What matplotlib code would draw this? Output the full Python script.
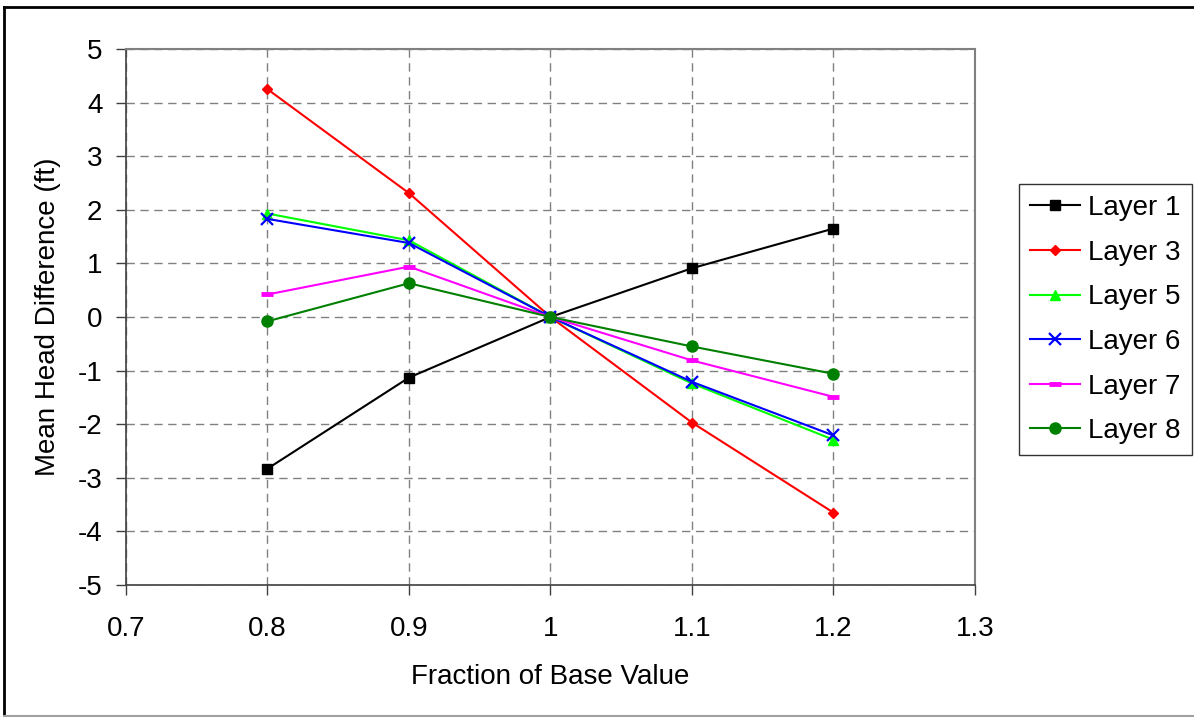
import matplotlib
matplotlib.use("Agg")
import matplotlib.pyplot as plt
from matplotlib.lines import Line2D

plt.rcParams['font.family'] = ['Liberation Sans', 'DejaVu Sans']
plt.rcParams['axes.unicode_minus'] = False

fractions = [0.8, 0.9, 1.0, 1.1, 1.2]
layer_names = ["Layer 1", "Layer 3", "Layer 5", "Layer 6", "Layer 7", "Layer 8"]
layer1 = [-2.83, -1.13, 0.0, 0.91, 1.65]
layer3 = [4.25, 2.31, 0.0, -1.97, -3.65]
layer5 = [1.93, 1.43, 0.0, -1.24, -2.29]
layer6 = [1.83, 1.38, 0.0, -1.21, -2.21]
layer7 = [0.42, 0.94, 0.0, -0.81, -1.49]
layer8 = [-0.08, 0.63, 0.0, -0.55, -1.06]
series = [layer1, layer3, layer5, layer6, layer7, layer8]

colors = ["#000000", "#FF0000", "#00FF00", "#0000FF", "#FF00FF", "#008000"]
markers = ["s", "D", "^", "x", "_", "o"]
msizes = [7.5, 5.5, 7, 9, 9, 8]
mews = [1, 1, 1, 1.6, 3.5, 1]

W, H = 1194, 717
fig = plt.figure(figsize=(W / 100, H / 100), dpi=100)
ax = fig.add_axes([126 / W, 1 - 585 / H, (975 - 126) / W, (585 - 49) / H])

for name, vals, c, m, ms, mew in zip(layer_names, series, colors, markers, msizes, mews):
    ax.plot(fractions, vals, color=c, marker=m, markersize=ms, markeredgewidth=mew,
            linewidth=1.5, label=name, clip_on=False)

ax.set_xlim(0.7, 1.3)
ax.set_ylim(-5, 5)
ax.set_xticks([0.7, 0.8, 0.9, 1.0, 1.1, 1.2, 1.3])
ax.set_xticklabels(["0.7", "0.8", "0.9", "1", "1.1", "1.2", "1.3"])
ax.set_yticks(range(-5, 6))
ax.grid(True, color="#808080", linestyle=(0, (6, 4)), linewidth=1)
ax.set_axisbelow(True)

for side in ["top", "right"]:
    ax.spines[side].set_color("#808080")
    ax.spines[side].set_linewidth(1.5)
for side in ["left", "bottom"]:
    ax.spines[side].set_color("#404040")
    ax.spines[side].set_linewidth(1.2)
ax.tick_params(axis="both", direction="out", length=7, width=1, colors="#404040",
               labelsize=20, labelcolor="black")
ax.tick_params(axis="y", pad=10)
ax.tick_params(axis="x", pad=15)

ax.set_xlabel("Fraction of Base Value", fontsize=20, labelpad=16)
ax.set_ylabel("Mean Head Difference (ft)", fontsize=20, labelpad=12)

leg = fig.legend(loc="upper left", bbox_to_anchor=(1019 / W, 1 - 184 / H),
                 bbox_transform=fig.transFigure, borderaxespad=0, fontsize=20,
                 frameon=True, fancybox=False, edgecolor="black", borderpad=0.4,
                 labelspacing=0.67, handlelength=1.8, handletextpad=0.3)
leg.get_frame().set_linewidth(1)

# outer border of the chart area
fig.add_artist(Line2D([4 / W, 4 / W], [1 - 7 / H, 1 - 716 / H], transform=fig.transFigure,
                      color="black", linewidth=2))
fig.add_artist(Line2D([4 / W, 1.0], [1 - 7 / H, 1 - 7 / H], transform=fig.transFigure,
                      color="black", linewidth=2))
fig.add_artist(Line2D([4 / W, 1.0], [1 - 716 / H, 1 - 716 / H], transform=fig.transFigure,
                      color="#A0A0A0", linewidth=1.5))

fig.savefig("out.png", dpi=100)
